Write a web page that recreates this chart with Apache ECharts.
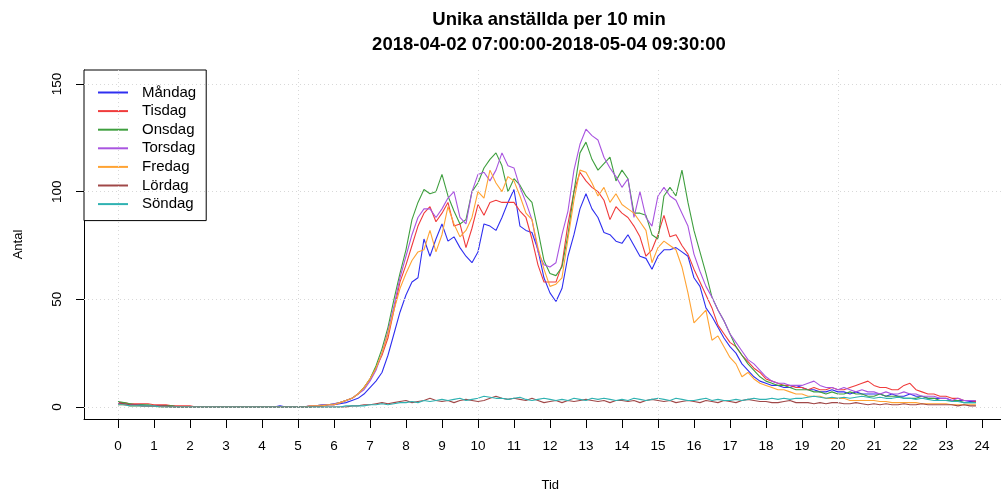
<!DOCTYPE html>
<html><head><meta charset="utf-8">
<script src="https://cdn.jsdelivr.net/npm/echarts@6/dist/echarts.min.js"></script>
<style>html,body{margin:0;padding:0;background:#fff}#c{width:1001px;height:492px}</style>
</head><body><div id="c"></div>
<script>
const seriesNames = ['Måndag','Tisdag','Onsdag','Torsdag','Fredag','Lördag','Söndag'];
const seriesColors = ['#2f2ff0','#f03c3c','#3f9f3f','#a955e0','#ffa333','#a04848','#2fb2b2'];
const hourTicks = [0,1,2,3,4,5,6,7,8,9,10,11,12,13,14,15,16,17,18,19,20,21,22,23,24];
const gridHours = [0,5,10,15,20];
const yTicks = [0,50,100,150];
const minutesPerStep = 10;

const mandag = [
2,1.5,1,1,1,0.5, 0.5,0.5,0.5,0.5,0,0, 0,0,0,0,0,0, 0,0,0,0,0,0, 0,0,0,0.5,0,0, 0,0,0.5,0.5,0.5,1,
1,1.5,2,3,4,6, 9,12,16,24,34,44, 52,58,60,78,70,78, 85,77,79,74,70,67, 72,85,84,82,88,95, 101,84,82,81,73,60,
53,49,55,70,80,92, 99,92,88,81,80,77, 76,80,75,70,69,64, 70,73,73,74,72,70, 60,56,46,42,37,32, 28,25,20,17,14,12,
11,10,10,9,9,10, 9,8,8,7,7,8, 7,7,6,7,6,6, 6,6,5,6,5,5, 6,5,5,4,4,4, 4,3,3,3,2.5,2.5];
const tisdag = [
2,2,1.5,1.5,1.5,1.5, 1,1,1,0.5,0.5,0.5, 0.5,0,0,0,0,0, 0,0,0,0,0,0, 0,0,0,0,0,0, 0,0,0,0.5,0.5,1,
1,2,3,4,6,9, 13,18,24,32,45,58, 66,75,84,90,93,86, 90,95,84,85,74,83, 94,89,95,96,95,95, 95,91,88,78,66,58,
58,58,66,85,100,109, 105,102,100,96,87,93, 90,88,84,79,70,73, 80,89,79,80,75,71, 64,58,52,46,38,34, 30,28,24,21,18,16,
13,12,11,10,10,9, 9,8,9,8,8,9, 8,8,9,10,11,12, 10,9,9,8,8,10, 11,8,7,6,6,5, 5,4,4,3,3,2.5];
const onsdag = [
2.5,2,1.5,1,1,1, 0.5,0.5,0.5,0.5,0,0, 0,0,0,0,0,0, 0,0,0,0,0,0, 0,0,0,0,0,0, 0,0,0,0.5,1,1,
1.5,2,3,4,6,9, 13,19,27,37,50,62, 73,87,95,101,99,100, 108,98,91,85,87,100, 104,111,115,118,112,100, 106,103,98,95,82,68,
62,61,65,80,100,118, 123,115,110,113,116,105, 110,106,90,90,89,80, 78,98,102,98,110,95, 82,72,62,51,45,40, 34,28,24,20,17,14,
12,11,10,10,9,8, 8,8,7,7,6,7, 6,6,7,6,6,5, 5,6,5,5,5,4, 4,4,5,4,4,3, 3,3,3,2,2,2];
const torsdag = [
1.5,1,1,1,0.5,0.5, 0.5,0.5,0,0,0,0, 0,0,0,0,0,0, 0,0,0,0,0,0, 0,0,0,0,0,0, 0,0,0.5,0.5,1,1,
1.5,2,3,4,6,8, 12,17,25,35,47,60, 70,80,88,92,92,88, 92,97,100,88,85,100, 108,109,105,110,118,112, 111,102,95,87,72,66,
65,67,80,91,110,122, 129,126,124,116,111,107, 102,106,88,100,88,84, 98,102,98,96,90,84, 71,63,56,51,45,40, 34,30,26,22,20,17,
14,12,11,11,10,10, 10,11,12,10,9,9, 8,9,8,7,8,7, 7,6,7,6,6,7, 6,6,5,5,5,4, 4,3,4,3,3,3];
const fredag = [
1,1,0.5,0.5,0.5,0.5, 0.5,0,0,0,0,0, 0,0,0,0,0,0, 0,0,0,0,0,0, 0,0,0,0,0,0, 0,0,0.5,0.5,0.5,1,
1,2,3,4,6,9, 13,18,25,34,45,55, 62,68,72,73,82,72, 80,93,85,79,82,88, 100,97,110,104,100,107, 105,98,90,87,74,64,
56,57,60,78,96,110, 109,104,98,102,95,99, 94,92,90,86,82,67, 74,77,75,73,65,53, 39,42,45,31,33,28, 23,20,14,16,13,11,
10,9,8,8,7,6, 6,5,5,5,4,4, 4,4,3,3,3,3, 3,2.5,2.5,2,2,2, 2,2,1.5,1.5,1.5,1.5, 1.5,1,1,1,1,1];
const lordag = [
2,1.5,1,1,0.5,0.5, 0.5,0.5,0.5,0,0,0, 0,0,0,0,0,0, 0,0,0,0,0,0, 0,0,0,0,0,0, 0,0,0,0,0,0,
0,0,0,0.5,0.5,1, 1,1.5,2,1.5,2,2.5, 3,2,2.5,3,4,3, 2.5,3,2,3,3.5,3, 2.5,3,4,5,4,3.5, 4,3.5,3,4,3,2,
2.5,3,2,3,2.5,3, 3.5,3,2.5,3,2,3, 3,2.5,3,2,3,3.5, 3,2.5,3,2,2.5,3, 2.5,2,3,2.5,2,3, 2.5,2,3,3.5,3,2.5,
2.5,2,2,2.5,3,2, 2,2,1.5,2,1.5,2, 2,1.5,1.5,2,1.5,1, 1.5,1,1.5,1,1,1.5, 1,1,1.5,1,1,1, 1,1,0.5,1,0.5,0.5];
const sondag = [
1,1,0.5,0.5,0.5,0.5, 0.5,0,0,0,0,0, 0,0,0,0,0,0, 0,0,0,0,0,0, 0,0,0,0,0,0, 0,0,0,0,0,0,
0,0,0.5,0.5,0.5,0.5, 1,1,1.5,1,1.5,2, 2,2.5,2,3,2.5,3, 3.5,3,3.5,4,3,3.5, 4,5,4.5,4,4,3.5, 4,4.5,3.5,3,3.5,4,
3.5,3,3.5,3,4,3.5, 3,4,3.5,4,3.5,3, 3.5,3,4,3.5,3,3.5, 4,3.5,3,4,3.5,3, 3,3.5,4,3,3.5,3, 3,3.5,3,3.5,4,3.5,
3.5,4,3.5,4,3.5,4, 4,4.5,5,4.5,4,4.5, 4,4.5,4,4.5,5,4.5, 4,4.5,4,4,4.5,4, 4,3.5,4,3.5,3,3, 3,2.5,2.5,2,2,2];

const allValues = [mandag, tisdag, onsdag, torsdag, fredag, lordag, sondag];
const FONT = '"Liberation Sans", Arial, Helvetica, sans-serif';

const chart = echarts.init(document.getElementById('c'), null, {renderer: 'canvas'});

const dataSeries = allValues.map((vals, k) => ({
  name: seriesNames[k],
  type: 'line',
  symbol: 'none',
  showSymbol: false,
  z: 3,
  lineStyle: {width: 1.1, color: seriesColors[k]},
  itemStyle: {color: seriesColors[k]},
  data: vals.map((v, i) => [i * minutesPerStep / 60, v])
}));

const gridLineSeries = {
  type: 'line',
  name: '_grid',
  data: [],
  z: 1,
  silent: true,
  markLine: {
    silent: true,
    symbol: 'none',
    label: {show: false},
    lineStyle: {color: '#d8d8d8', type: [1, 3], width: 1},
    data: gridHours.map(h => ({xAxis: h})).concat(yTicks.map(v => ({yAxis: v})))
  }
};

chart.setOption({
  animation: false,
  backgroundColor: '#fff',
  graphic: [
    {type: 'text', x: 549, y: 20, style: {text: 'Unika anställda per 10 min', align: 'center', verticalAlign: 'middle', font: 'bold 18.5px ' + FONT, fill: '#000'}},
    {type: 'text', x: 549, y: 45, style: {text: '2018-04-02 07:00:00-2018-05-04 09:30:00', align: 'center', verticalAlign: 'middle', font: 'bold 18.5px ' + FONT, fill: '#000'}}
  ],
  grid: {left: 84, top: 70, width: 932.5, height: 349, outerBoundsMode: 'none', containLabel: false},
  legend: {
    data: seriesNames,
    orient: 'vertical',
    left: 84, top: 70,
    selectedMode: false,
    backgroundColor: '#fff',
    borderColor: '#000', borderWidth: 1, borderRadius: 0,
    padding: [15, 10, 9, 13],
    itemWidth: 30, itemHeight: 15, itemGap: 3.6,
    itemStyle: {opacity: 0, borderWidth: 0},
    textStyle: {fontSize: 15, lineHeight: 15, fontFamily: FONT, color: '#000', padding: [0, 0, 0, 9]}
  },
  xAxis: {
    type: 'value', min: -0.944, max: 24.96,
    name: 'Tid', nameLocation: 'middle', nameGap: 60,
    nameTextStyle: {fontSize: 13, fontFamily: FONT, color: '#000'},
    axisLine: {show: true, onZero: false, lineStyle: {color: '#000', width: 1}},
    axisTick: {show: true, length: 9, lineStyle: {color: '#000'}, customValues: hourTicks},
    axisLabel: {fontSize: 13.5, fontFamily: FONT, color: '#000', margin: 20, customValues: hourTicks},
    splitLine: {show: false}
  },
  yAxis: {
    type: 'value', min: -5.6, max: 156.5,
    name: 'Antal', nameLocation: 'middle', nameGap: 59, nameRotate: 90,
    nameTextStyle: {fontSize: 13, fontFamily: FONT, color: '#000'},
    axisLine: {show: true, onZero: false, lineStyle: {color: '#000', width: 1}},
    axisTick: {show: true, length: 8, lineStyle: {color: '#000'}, customValues: yTicks},
    axisLabel: {fontSize: 13.5, fontFamily: FONT, color: '#000', margin: 20, rotate: 90, customValues: yTicks},
    splitLine: {show: false}
  },
  series: [gridLineSeries].concat(dataSeries)
});
</script>
</body></html>
